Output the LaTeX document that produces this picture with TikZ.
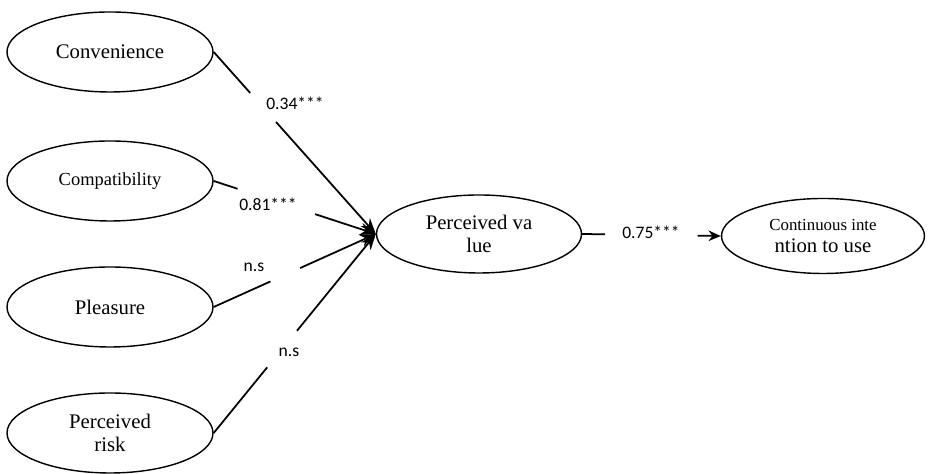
\documentclass[tikz,border=0pt]{standalone}
\usepackage{fontspec}
\setmainfont{Liberation Serif}
\newfontfamily\lblfont{Carlito}
\usetikzlibrary{shapes.geometric,arrows.meta}

\begin{document}
\begin{tikzpicture}[scale=1, factor/.style = {ellipse, draw=black, line width=0.8pt, minimum width=4.12cm, minimum height=1.6cm, inner sep=0pt, align=center, font=\fontsize{11.8}{13}\selectfont}, coef/.style = {font=\lblfont\fontsize{10}{12}\selectfont, inner sep=1pt}, path/.style = {line width=1pt, -{Stealth[length=9pt,width=7pt]}}]
        \useasboundingbox (0, 0) rectangle (18.56, 9.48);
        \draw (2.20, 8.44) node[factor] (conv) {Convenience};
        \draw (2.20, 5.86) node[factor, font=\fontsize{10.5}{12}\selectfont] (comp) {Compatibility};
        \draw (2.20, 3.34) node[factor] (pleas) {Pleasure};
        \draw (2.20, 0.82) node[factor] (risk) {Perceived\\risk};
        \draw (9.58, 4.80) node[factor, minimum width=4.10cm, minimum height=1.56cm] (pv) {Perceived va\\lue};
        \draw (16.46, 4.76) node[factor, minimum width=4.06cm, minimum height=1.50cm] (ci) {{\fontsize{9.6}{10}\selectfont Continuous inte}\\ntion to use};

        \draw (5.90, 7.42) node[coef] (c1) {0.34***};
        \draw (5.36, 5.40) node[coef] (c2) {0.81***};
        \draw (5.08, 4.14) node[coef] (c3) {n.s};
        \draw (5.78, 2.44) node[coef] (c4) {n.s};
        \draw (13.02, 4.84) node[coef] (c5) {0.75***};

        \draw[path, dash pattern=on 31.2pt off 22.1pt on 400pt] (conv.east) -- (pv.west);
        \draw[path, dash pattern=on 14.3pt off 46.4pt on 400pt] (comp.east) -- (pv.west);
        \draw[path, dash pattern=on 35.4pt off 18.6pt on 400pt] (pleas.east) -- (pv.west);
        \draw[path, dash pattern=on 48.2pt off 26.8pt on 400pt] (risk.east) -- (pv.west);
        \draw[path, -{Stealth[length=7pt,width=6pt]}, dash pattern=on 13pt off 52.7pt on 400pt] (pv.east) -- (ci.west);
      \end{tikzpicture}
\end{document}
